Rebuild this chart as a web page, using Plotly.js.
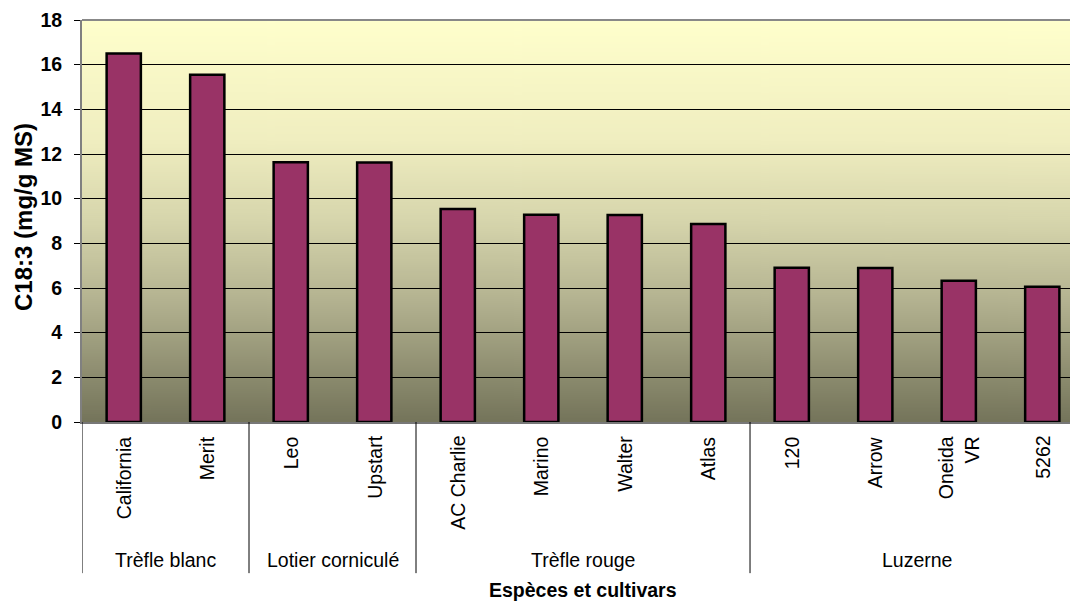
<!DOCTYPE html>
<html>
<head>
<meta charset="utf-8">
<script src="https://cdn.plot.ly/plotly-3.0.1.min.js"></script>
<style>
  html, body { margin: 0; padding: 0; background: #ffffff; overflow: hidden; }
  #chart { width: 1070px; height: 603px; }
</style>
</head>
<body>
<div id="chart"></div>
<script>
// Cultivars (bar categories), their tick labels and their species groups
const cultivars = ['California', 'Merit', 'Leo', 'Upstart', 'AC Charlie', 'Marino',
                   'Walter', 'Atlas', '120', 'Arrow', 'Oneida VR', '5262'];
const cultivarLabels = ['California', 'Merit', 'Leo', 'Upstart', 'AC Charlie', 'Marino',
                        'Walter', 'Atlas', '120', 'Arrow', 'Oneida<br>VR', '5262'];
const c183 = [16.5, 15.55, 11.63, 11.62, 9.54, 9.28, 9.27, 8.87, 6.91, 6.9, 6.33, 6.06];

const species = ['Trèfle blanc', 'Lotier corniculé', 'Trèfle rouge', 'Luzerne'];
const speciesCount = [2, 2, 4, 4];

const yTicks = [0, 2, 4, 6, 8, 10, 12, 14, 16, 18];

const FONT = 'Liberation Sans, Arial, sans-serif';

// Vertical background gradient for the plot area, painted on a canvas
function gradientImage() {
  const cv = document.createElement('canvas');
  cv.width = 8; cv.height = 400;
  const ctx = cv.getContext('2d');
  const g = ctx.createLinearGradient(0, 0, 0, cv.height);
  g.addColorStop(0.0, '#FFFFCC');
  g.addColorStop(0.3, '#F0EEC0');
  g.addColorStop(0.5, '#D6D5AC');
  g.addColorStop(0.7, '#B3B290');
  g.addColorStop(1.0, '#74745A');
  ctx.fillStyle = g;
  ctx.fillRect(0, 0, cv.width, cv.height);
  return cv.toDataURL('image/png');
}

const trace = {
  type: 'bar',
  x: cultivars.map((_, i) => i),
  y: c183,
  marker: { color: '#993366', line: { color: '#000000', width: 2.5 } },
  hoverinfo: 'x+y'
};

const annotations = [];
const shapes = [];

// Rotated cultivar labels under each bar
cultivarLabels.forEach((lab, i) => {
  annotations.push({
    xref: 'x', yref: 'paper', x: i, y: 0,
    text: lab, showarrow: false, textangle: -90,
    xanchor: 'center', yanchor: 'top', yshift: -12, align: 'right',
    font: { family: FONT, size: 19.5, color: '#000000' }
  });
});

// Species group labels and the separators between groups
let start = 0;
shapes.push({
  type: 'line', xref: 'x', yref: 'paper', x0: -0.5, x1: -0.5, y0: 0, y1: -0.376,
  line: { color: '#000000', width: 1 }
});
species.forEach((sp, k) => {
  const end = start + speciesCount[k];
  annotations.push({
    xref: 'x', yref: 'paper', x: (start + end - 1) / 2, y: 0,
    text: sp, showarrow: false, xanchor: 'center', yanchor: 'middle', yshift: -138,
    font: { family: FONT, size: 19.5, color: '#000000' }
  });
  shapes.push({
    type: 'line', xref: 'x', yref: 'paper', x0: end - 0.5, x1: end - 0.5, y0: 0, y1: -0.376,
    line: { color: '#000000', width: 1 }
  });
  start = end;
});

// Frame line along the top of the plot area
shapes.push({
  type: 'line', xref: 'paper', yref: 'paper', x0: 0, x1: 1, y0: 1, y1: 1,
  line: { color: '#888888', width: 2 }
});

// Axis titles
annotations.push({
  xref: 'x', yref: 'paper', x: (cultivars.length - 1) / 2, y: 0,
  text: 'Espèces et cultivars', showarrow: false,
  xanchor: 'center', yanchor: 'middle', yshift: -168,
  font: { family: FONT, size: 19.5, color: '#000000', weight: 700 }
});
annotations.push({
  xref: 'paper', yref: 'paper', x: 0, y: 0.51,
  text: 'C18:3 (mg/g MS)', showarrow: false, textangle: -90,
  xanchor: 'center', yanchor: 'middle', xshift: -58,
  font: { family: FONT, size: 24, color: '#000000', weight: 700 }
});

const layout = {
  width: 1070, height: 603,
  margin: { l: 82, r: 0, t: 20, b: 181 },
  paper_bgcolor: '#ffffff',
  plot_bgcolor: 'rgba(0,0,0,0)',
  showlegend: false,
  bargap: 0.59,
  xaxis: {
    type: 'linear',
    range: [-0.5, 11.332],
    showticklabels: false, ticks: '',
    showgrid: false, zeroline: false,
    showline: true, linecolor: '#777777', linewidth: 2,
    fixedrange: true
  },
  yaxis: {
    range: [0, 18],
    tickvals: yTicks,
    ticktext: yTicks.map(String),
    ticks: 'outside', ticklen: 6, tickwidth: 1, tickcolor: '#000000',
    ticklabelstandoff: 8,
    tickfont: { family: FONT, size: 19.5, color: '#000000', weight: 700 },
    showgrid: true, gridcolor: '#000000', gridwidth: 1,
    zeroline: false,
    showline: true, linecolor: '#808080', linewidth: 2,
    fixedrange: true
  },
  images: [{
    source: gradientImage(),
    xref: 'paper', yref: 'paper', x: 0, y: 1, sizex: 1, sizey: 1,
    xanchor: 'left', yanchor: 'top', sizing: 'stretch', layer: 'below'
  }],
  shapes: shapes,
  annotations: annotations
};

Plotly.newPlot('chart', [trace], layout, { displayModeBar: false, staticPlot: true });
</script>
</body>
</html>
